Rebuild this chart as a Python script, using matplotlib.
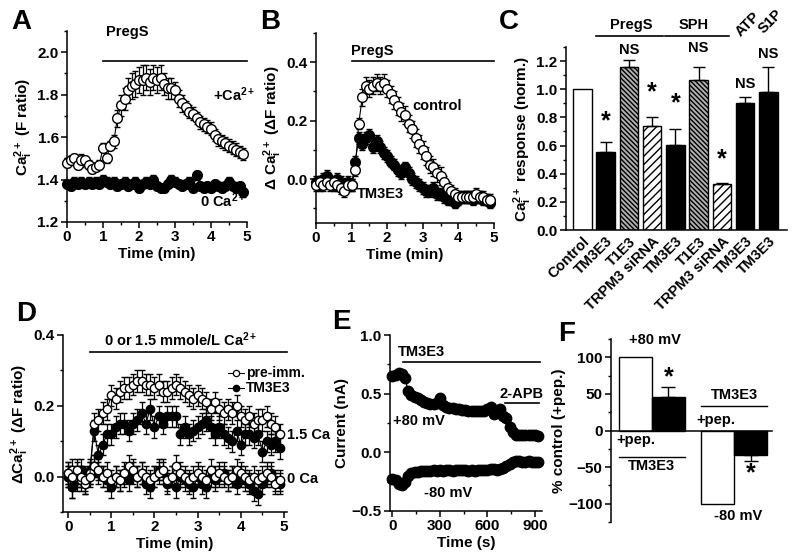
import numpy as np
import matplotlib
matplotlib.use("Agg")
import matplotlib.pyplot as plt
from matplotlib.ticker import MultipleLocator

plt.rcParams['font.family'] = ['Liberation Sans', 'DejaVu Sans']
plt.rcParams['font.weight'] = 'bold'
plt.rcParams['mathtext.fontset'] = 'custom'
plt.rcParams['mathtext.rm'] = 'Liberation Sans:bold'
plt.rcParams['mathtext.it'] = 'Liberation Sans:bold'
plt.rcParams['mathtext.bf'] = 'Liberation Sans:bold'
plt.rcParams['mathtext.default'] = 'bf'
plt.rcParams['hatch.linewidth'] = 1.0

# ---------------- Panel A data ----------------
a_time = [round(0.1 * i, 1) for i in range(50)]
a_ca = [1.48, 1.49, 1.50, 1.47, 1.49, 1.49, 1.47, 1.45, 1.46, 1.47,
        1.55, 1.50, 1.56, 1.58, 1.69, 1.75, 1.78, 1.82, 1.84, 1.85,
        1.87, 1.87, 1.88, 1.86, 1.88, 1.87, 1.88, 1.85, 1.83, 1.83,
        1.82, 1.78, 1.76, 1.74, 1.72, 1.71, 1.69, 1.67, 1.66, 1.65,
        1.64, 1.61, 1.59, 1.58, 1.57, 1.56, 1.55, 1.54, 1.53, 1.52]
a_ca_err = [0.02, 0.02, 0.02, 0.02, 0.03, 0.02, 0.02, 0.02, 0.02, 0.02,
            0.02, 0.02, 0.02, 0.03, 0.04, 0.05, 0.05, 0.06, 0.06, 0.06,
            0.06, 0.07, 0.06, 0.06, 0.06, 0.06, 0.06, 0.05, 0.05, 0.05,
            0.04, 0.04, 0.04, 0.03, 0.03, 0.03, 0.03, 0.03, 0.03, 0.03,
            0.03, 0.03, 0.03, 0.03, 0.03, 0.03, 0.03, 0.03, 0.03, 0.03]
a_zero = [1.38, 1.37, 1.39, 1.38, 1.39, 1.38, 1.39, 1.38, 1.39, 1.38,
          1.40, 1.39, 1.38, 1.39, 1.37, 1.38, 1.39, 1.37, 1.38, 1.39,
          1.36, 1.38, 1.39, 1.38, 1.40, 1.37, 1.36, 1.36, 1.38, 1.40,
          1.39, 1.38, 1.37, 1.38, 1.39, 1.36, 1.42, 1.37, 1.36, 1.37,
          1.36, 1.38, 1.37, 1.36, 1.37, 1.39, 1.37, 1.36, 1.37, 1.34]
a_zero_err = [0.02] * 50

# ---------------- Panel B data ----------------
b_time = [round(0.1 * i, 1) for i in range(50)]
b_ctrl = [-0.02, -0.01, -0.02, -0.01, -0.02, -0.01, -0.02, -0.03, -0.04, -0.02,
          -0.02, 0.03, 0.19, 0.28, 0.32, 0.31, 0.32, 0.33, 0.32, 0.33,
          0.31, 0.29, 0.27, 0.25, 0.23, 0.22, 0.19, 0.17, 0.14, 0.12,
          0.10, 0.08, 0.05, 0.04, 0.02, 0.01, -0.01, -0.03, -0.04, -0.05,
          -0.06, -0.06, -0.06, -0.06, -0.06, -0.05, -0.06, -0.06, -0.07, -0.07]
b_ctrl_err = [0.02] * 12 + [0.02, 0.03, 0.03, 0.03, 0.03, 0.03, 0.03, 0.03,
              0.03, 0.03, 0.03, 0.03, 0.03, 0.03, 0.03, 0.03, 0.03, 0.03,
              0.03, 0.03, 0.03, 0.03, 0.03, 0.03, 0.02, 0.02, 0.02, 0.02] + [0.02] * 10
b_tm = [-0.01, -0.02, 0.00, 0.01, -0.01, -0.02, 0.00, -0.01, -0.02, -0.01,
        -0.02, 0.06, 0.14, 0.12, 0.14, 0.15, 0.11, 0.13, 0.11, 0.09,
        0.08, 0.06, 0.05, 0.03, 0.02, 0.04, 0.02, 0.00, -0.01, -0.02,
        -0.03, -0.04, -0.04, -0.03, -0.05, -0.05, -0.06, -0.07, -0.07, -0.08,
        -0.07, -0.06, -0.06, -0.06, -0.07, -0.06, -0.06, -0.07, -0.07, -0.08]
b_tm_err = [0.02] * 50

# ---------------- Panel C data ----------------
c_labels = ['Control', 'TM3E3', 'T1E3', 'TRPM3 siRNA', 'TM3E3', 'T1E3',
            'TRPM3 siRNA', 'TM3E3', 'TM3E3']
c_values = [1.0, 0.555, 1.16, 0.74, 0.605, 1.065, 0.325, 0.90, 0.98]
c_errors = [0.0, 0.07, 0.05, 0.06, 0.11, 0.09, 0.01, 0.045, 0.18]
c_marks = ['', '*', 'NS', '*', '*', 'NS', '*', 'NS', 'NS']
c_mark_y = [0, 0.77, 1.28, 0.98, 0.90, 1.29, 0.50, 1.04, 1.25]
c_style = ['open', 'solid', 'dense', 'sparse', 'solid', 'dense', 'sparse', 'solid', 'solid']

# ---------------- Panel D data ----------------
d_time = [round(0.1 * i, 1) for i in range(50)]
d_pre_15 = [0.01, 0.00, 0.02, 0.00, -0.01, 0.00, 0.15, 0.16, 0.18, 0.19,
            0.23, 0.22, 0.24, 0.25, 0.25, 0.26, 0.27, 0.27, 0.26, 0.26,
            0.25, 0.26, 0.24, 0.24, 0.25, 0.26, 0.25, 0.24, 0.23, 0.22,
            0.23, 0.22, 0.21, 0.19, 0.21, 0.19, 0.18, 0.19, 0.18, 0.20,
            0.17, 0.16, 0.17, 0.15, 0.16, 0.16, 0.17, 0.15, 0.14, 0.12]
d_tm_15 = [0.00, -0.03, 0.01, 0.02, 0.00, 0.02, 0.13, 0.06, 0.09, 0.12,
           0.12, 0.14, 0.15, 0.15, 0.13, 0.15, 0.16, 0.18, 0.15, 0.19,
           0.14, 0.17, 0.15, 0.17, 0.17, 0.17, 0.12, 0.14, 0.12, 0.13,
           0.14, 0.15, 0.16, 0.14, 0.12, 0.14, 0.12, 0.11, 0.10, 0.13,
           0.09, 0.12, 0.12, 0.11, 0.12, 0.07, 0.10, 0.09, 0.10, 0.08]
d_pre_0 = [0.01, 0.02, 0.00, -0.01, -0.02, 0.01, 0.03, 0.02, 0.00, 0.01,
           -0.01, 0.00, -0.01, 0.01, 0.03, 0.02, 0.00, 0.01, 0.00, -0.01,
           0.00, 0.01, 0.02, -0.01, 0.00, 0.03, 0.01, 0.00, -0.01, 0.00,
           0.01, 0.00, -0.01, 0.02, 0.00, 0.01, 0.00, -0.01, 0.00, 0.02,
           0.01, 0.00, -0.01, 0.00, -0.01, 0.00, 0.01, 0.00, -0.02, -0.01]
d_tm_0 = [0.00, -0.03, -0.01, 0.00, -0.02, 0.01, 0.03, 0.01, 0.00, -0.01,
          -0.03, 0.00, -0.01, 0.00, -0.01, 0.01, 0.00, 0.01, -0.02, -0.03,
          0.00, 0.02, 0.01, -0.02, 0.00, -0.03, 0.00, -0.01, -0.02, -0.03,
          0.00, -0.02, -0.03, 0.00, -0.01, 0.00, 0.01, -0.01, 0.00, -0.02,
          0.00, -0.01, -0.02, -0.04, -0.05, -0.02, 0.00, 0.01, -0.01, -0.02]
d_err = [0.03] * 50

# ---------------- Panel E data ----------------
e_time = [20 * i for i in range(47)]
e_pos = [0.65, 0.66, 0.68, 0.67, 0.63, 0.52, 0.49, 0.47, 0.46, 0.45,
         0.43, 0.42, 0.41, 0.41, 0.42, 0.46, 0.40, 0.39, 0.38, 0.38,
         0.37, 0.37, 0.36, 0.36, 0.35, 0.35, 0.35, 0.35, 0.35, 0.35,
         0.37, 0.39, 0.33, 0.34, 0.37, 0.31, 0.29, 0.22, 0.17, 0.15,
         0.15, 0.15, 0.15, 0.15, 0.15, 0.15, 0.14]
e_neg = [-0.23, -0.24, -0.27, -0.28, -0.25, -0.20, -0.18, -0.17, -0.17, -0.16,
         -0.16, -0.16, -0.16, -0.15, -0.16, -0.15, -0.16, -0.15, -0.15, -0.16,
         -0.15, -0.15, -0.15, -0.15, -0.16, -0.15, -0.16, -0.15, -0.15, -0.15,
         -0.15, -0.14, -0.14, -0.15, -0.14, -0.13, -0.12, -0.10, -0.08, -0.07,
         -0.07, -0.08, -0.08, -0.07, -0.08, -0.08, -0.08]

# ---------------- Panel F data ----------------
f_values = [100, 46, -100, -34]
f_errors = [0, 14, 0, 8]
f_colors = ['white', 'black', 'white', 'black']

fig = plt.figure(figsize=(8.0, 5.57), dpi=100)
W, H = 800.0, 557.0

TICK = 11
LBL = 11
ANN = 10.5


def add_ax(l, r, t, b):
    return fig.add_axes([l / W, 1 - b / H, (r - l) / W, (b - t) / H])


def style(ax, fs=TICK):
    ax.spines['top'].set_visible(False)
    ax.spines['right'].set_visible(False)
    for s in ('left', 'bottom'):
        ax.spines[s].set_linewidth(1.1)
    ax.tick_params(which='major', direction='out', length=4, width=1.1,
                   labelsize=fs, pad=2)
    ax.tick_params(which='minor', direction='out', length=2, width=1)
    for lab in ax.get_xticklabels() + ax.get_yticklabels():
        lab.set_fontweight('bold')


def trace(ax, x, y, err, filled, ms=7, cap=2.0):
    ax.errorbar(x, y, yerr=err, fmt='-o', color='black', lw=0.8,
                mfc='black' if filled else 'white', mec='black', mew=1.0,
                ms=ms, ecolor='black', elinewidth=0.9, capsize=cap,
                capthick=0.9, clip_on=False, zorder=3 if not filled else 2)


# ---------------- A ----------------
axA = add_ax(67, 247, 31, 222)
trace(axA, a_time, a_zero, a_zero_err, True)
trace(axA, a_time, a_ca, a_ca_err, False)
axA.set_xlim(0, 5)
axA.set_ylim(1.2, 2.1)
axA.xaxis.set_major_locator(MultipleLocator(1))
axA.xaxis.set_minor_locator(MultipleLocator(0.5))
axA.yaxis.set_major_locator(MultipleLocator(0.2))
axA.yaxis.set_minor_locator(MultipleLocator(0.1))
style(axA)
axA.set_xlabel('Time (min)', fontsize=LBL, fontweight='bold', labelpad=2)
axA.set_ylabel(r'Ca$^{2+}_{i}$ (F ratio)', fontsize=LBL, fontweight='bold', labelpad=2)
axA.plot([1, 5], [1.96, 1.96], color='black', lw=1.2, clip_on=False)
axA.text(1.67, 2.095, 'PregS', ha='center', va='center', fontsize=ANN)
axA.text(4.05, 1.80, r'+Ca$^{2+}$', ha='left', va='center', fontsize=ANN)
axA.text(3.7, 1.30, r'0 Ca$^{2+}$', ha='left', va='center', fontsize=ANN)

# ---------------- B ----------------
axB = add_ax(316, 494, 33, 223)
trace(axB, b_time, b_tm, b_tm_err, True)
trace(axB, b_time, b_ctrl, b_ctrl_err, False)
axB.set_xlim(0, 5)
axB.set_ylim(-0.15, 0.5)
axB.xaxis.set_major_locator(MultipleLocator(1))
axB.xaxis.set_minor_locator(MultipleLocator(0.5))
axB.yaxis.set_major_locator(MultipleLocator(0.2))
axB.yaxis.set_minor_locator(MultipleLocator(0.1))
style(axB)
axB.set_xlabel('Time (min)', fontsize=LBL, fontweight='bold', labelpad=2)
axB.set_ylabel(r'Δ Ca$^{2+}_{i}$ (ΔF ratio)', fontsize=LBL, fontweight='bold', labelpad=2)
axB.plot([1, 5], [0.403, 0.403], color='black', lw=1.2, clip_on=False)
axB.text(1.57, 0.44, 'PregS', ha='center', va='center', fontsize=ANN)
axB.text(2.7, 0.25, 'control', ha='left', va='center', fontsize=ANN)
axB.text(1.8, -0.05, 'TM3E3', ha='center', va='center', fontsize=ANN)

# ---------------- C ----------------
axC = add_ax(566, 787, 47, 230)
xc = np.arange(len(c_values))
for i, (v, e, st) in enumerate(zip(c_values, c_errors, c_style)):
    if st == 'open':
        fc, hatch = 'white', None
    elif st == 'solid':
        fc, hatch = 'black', None
    elif st == 'dense':
        fc, hatch = '#b0b0b0', '\\' * 7
    else:
        fc, hatch = 'white', '////'
    axC.bar(i, v, width=0.8, color=fc, edgecolor='black', lw=1.0, hatch=hatch, zorder=2)
    if e > 0:
        axC.errorbar(i, v, yerr=[[0], [e]], fmt='none', ecolor='black',
                     elinewidth=1.0, capsize=4, capthick=1.0, zorder=3)
for i, (m, my) in enumerate(zip(c_marks, c_mark_y)):
    if m == '*':
        axC.text(i, my, '*', ha='center', va='center', fontsize=18)
    elif m == 'NS':
        axC.text(i, my, 'NS', ha='center', va='center', fontsize=ANN)
axC.set_xlim(-0.7, 8.8)
axC.set_ylim(0, 1.3)
axC.set_xticks(xc)
axC.set_xticklabels(c_labels, rotation=45, ha='right', rotation_mode='anchor')
axC.yaxis.set_major_locator(MultipleLocator(0.2))
axC.yaxis.set_minor_locator(MultipleLocator(0.1))
style(axC)
axC.tick_params(axis='x', length=0, pad=3, labelsize=10.5)
axC.set_ylabel(r'Ca$^{2+}_{i}$ response (norm.)', fontsize=LBL, fontweight='bold', labelpad=2)
axC.plot([0.6, 3.45], [1.38, 1.38], color='black', lw=1.2, clip_on=False)
axC.plot([3.55, 6.3], [1.38, 1.38], color='black', lw=1.2, clip_on=False)
axC.text(2.1, 1.455, 'PregS', ha='center', va='center', fontsize=ANN)
axC.text(4.8, 1.455, 'SPH', ha='center', va='center', fontsize=ANN)
axC.text(7.1, 1.46, 'ATP', ha='center', va='center', fontsize=ANN, rotation=45)
axC.text(8.1, 1.48, 'S1P', ha='center', va='center', fontsize=ANN, rotation=45)

# ---------------- D ----------------
axD = add_ax(63, 287, 335, 512)
trace(axD, d_time, d_tm_0, d_err, True, ms=6)
trace(axD, d_time, d_pre_0, d_err, False, ms=6)
trace(axD, d_time, d_tm_15, d_err, True, ms=6)
trace(axD, d_time, d_pre_15, d_err, False, ms=6)
axD.set_xlim(-0.12, 5.07)
axD.set_ylim(-0.1, 0.4)
axD.xaxis.set_major_locator(MultipleLocator(1))
axD.xaxis.set_minor_locator(MultipleLocator(0.5))
axD.yaxis.set_major_locator(MultipleLocator(0.2))
axD.yaxis.set_minor_locator(MultipleLocator(0.1))
style(axD)
axD.set_xlabel('Time (min)', fontsize=LBL, fontweight='bold', labelpad=2)
axD.set_ylabel(r'ΔCa$^{2+}_{i}$ (ΔF ratio)', fontsize=LBL, fontweight='bold', labelpad=2)
axD.plot([0.5, 5.07], [0.352, 0.352], color='black', lw=1.2, clip_on=False)
axD.text(2.6, 0.386, r'0 or 1.5 mmole/L Ca$^{2+}$', ha='center', va='center', fontsize=ANN)
axD.plot([3.7, 4.08], [0.292, 0.292], color='black', lw=0.8, clip_on=False)
axD.plot([3.89], [0.292], 'o', mfc='white', mec='black', ms=4.5, mew=0.9, clip_on=False)
axD.plot([3.7, 4.08], [0.25, 0.25], color='black', lw=0.8, clip_on=False)
axD.plot([3.89], [0.25], 'o', mfc='black', mec='black', ms=4.5, clip_on=False)
axD.text(4.12, 0.292, 'pre-imm.', ha='left', va='center', fontsize=10)
axD.text(4.12, 0.25, 'TM3E3', ha='left', va='center', fontsize=10)
axD.text(5.08, 0.118, '1.5 Ca', ha='left', va='center', fontsize=ANN, clip_on=False)
axD.text(5.08, -0.008, '0 Ca', ha='left', va='center', fontsize=ANN, clip_on=False)

# ---------------- E ----------------
axE = add_ax(390, 542, 335, 511)
axE.plot(e_time, e_pos, 'o-', color='black', ms=7.5, lw=1.0, clip_on=False)
axE.plot(e_time, e_neg, 'o-', color='black', ms=7.5, lw=1.0, clip_on=False)
axE.set_xlim(-15, 945)
axE.set_ylim(-0.5, 1.0)
axE.xaxis.set_major_locator(MultipleLocator(300))
axE.xaxis.set_minor_locator(MultipleLocator(150))
axE.yaxis.set_major_locator(MultipleLocator(0.5))
axE.yaxis.set_minor_locator(MultipleLocator(0.25))
style(axE)
axE.set_xlabel('Time (s)', fontsize=LBL, fontweight='bold', labelpad=2)
axE.set_ylabel('Current (nA)', fontsize=LBL, fontweight='bold', labelpad=2)
axE.plot([69, 930], [0.77, 0.77], color='black', lw=1.2, clip_on=False)
axE.text(182, 0.855, 'TM3E3', ha='center', va='center', fontsize=ANN)
axE.plot([710, 927], [0.42, 0.42], color='black', lw=1.2, clip_on=False)
axE.text(815, 0.50, '2-APB', ha='center', va='center', fontsize=ANN)
axE.text(170, 0.27, '+80 mV', ha='center', va='center', fontsize=ANN)
axE.text(352, -0.35, '-80 mV', ha='center', va='center', fontsize=ANN)

# ---------------- F ----------------
axF = add_ax(611, 772, 339, 522)
xf = [0, 1, 2.5, 3.5]
axF.bar(xf, f_values, width=1.0, color=f_colors, edgecolor='black', lw=1.0, zorder=2)
for x, v, e in zip(xf, f_values, f_errors):
    if e > 0:
        s = 1 if v > 0 else -1
        axF.errorbar(x, v, yerr=[[0], [e]] if s > 0 else [[e], [0]], fmt='none',
                     ecolor='black', elinewidth=1.0, capsize=5, capthick=1.0, zorder=3)
axF.set_xlim(-0.74, 4.14)
axF.set_ylim(-125, 125)
axF.spines['bottom'].set_position(('data', 0))
axF.yaxis.set_major_locator(MultipleLocator(50))
axF.yaxis.set_minor_locator(MultipleLocator(25))
style(axF)
axF.set_xticks([])
axF.set_ylabel('% control (+pep.)', fontsize=LBL, fontweight='bold', labelpad=2)
axF.text(0.6, 124, '+80 mV', ha='center', va='center', fontsize=ANN, clip_on=False)
axF.text(1.0, 72, '*', ha='center', va='center', fontsize=18)
axF.text(0.0, -13, '+pep.', ha='center', va='center', fontsize=ANN)
axF.plot([-0.5, 1.5], [-36, -36], color='black', lw=1.0)
axF.text(0.5, -49, 'TM3E3', ha='center', va='center', fontsize=ANN)
axF.text(3.0, 48, 'TM3E3', ha='center', va='center', fontsize=ANN)
axF.plot([2.0, 4.0], [34, 34], color='black', lw=1.0)
axF.text(2.45, 15, '+pep.', ha='center', va='center', fontsize=ANN)
axF.text(3.5, -58, '*', ha='center', va='center', fontsize=18)
axF.text(3.1, -117, '-80 mV', ha='center', va='center', fontsize=ANN, clip_on=False)

# ---------------- panel letters ----------------
for ch, x, y in [('A', 11, 22), ('B', 260, 22), ('C', 499, 22),
                 ('D', 16, 314), ('E', 332, 322), ('F', 558, 334)]:
    fig.text(x / W, 1 - y / H, ch, fontsize=20, fontweight='bold', ha='left', va='center')

fig.savefig('out.png', dpi=100)
